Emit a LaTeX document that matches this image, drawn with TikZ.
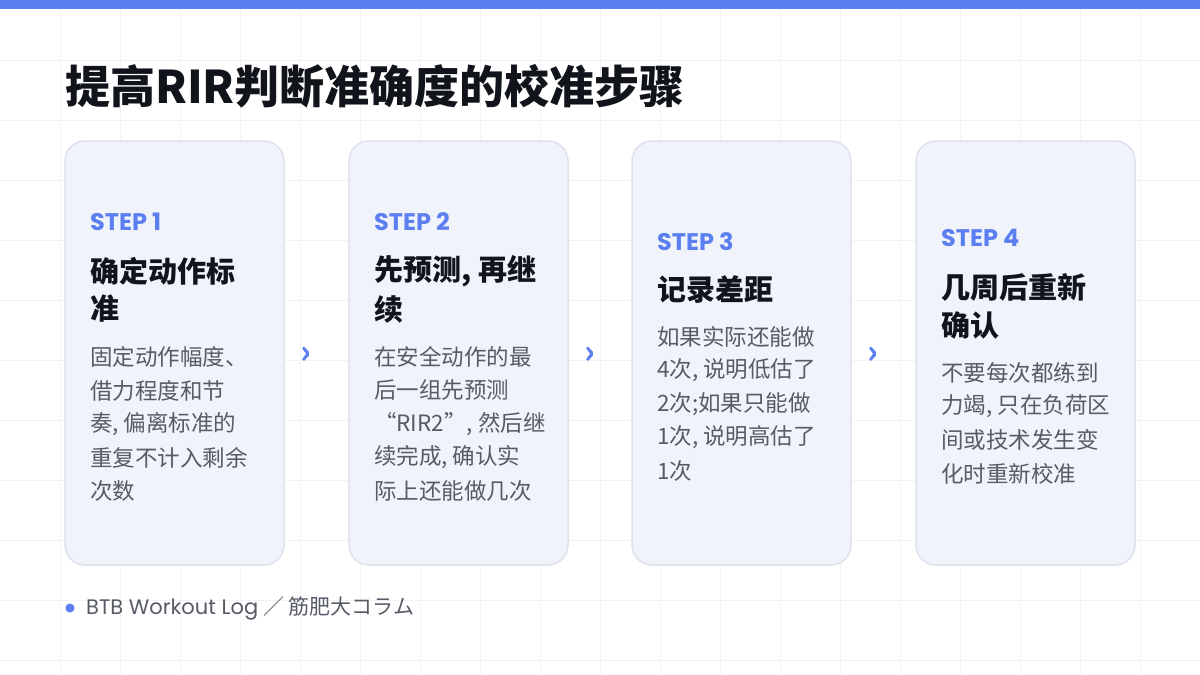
\documentclass[tikz,border=0pt]{standalone}
\usepackage{fontspec}
\setmainfont{Noto Sans CJK SC}
\newfontfamily\latb{Poppins}
\definecolor{accent}{HTML}{5B7FF0}
\definecolor{cardfill}{HTML}{F1F3FB}
\definecolor{cardline}{HTML}{DEE2EE}
\definecolor{gridc}{HTML}{F2F3F6}
\definecolor{body}{HTML}{575B66}
\definecolor{ink}{HTML}{12141C}
\begin{document}
\begin{tikzpicture}[x=1pt,y=-1pt,
 card/.style={draw=cardline,line width=1.5pt,fill=cardfill,rounded corners=20pt},
 stp/.style={anchor=west,inner sep=0,text=accent,font=\latb\fontsize{24}{24}\selectfont\bfseries},
 head/.style={anchor=west,inner sep=0,text=ink,font=\fontsize{29}{29}\selectfont\bfseries},
 bod/.style={anchor=west,inner sep=0,text=body,font=\fontsize{22.5}{22.5}\selectfont},
 arr/.style={text=accent,font=\fontsize{32}{32}\selectfont\bfseries,inner sep=0}]
\useasboundingbox (0,0) rectangle (1200,675);
\fill[white] (0,0) rectangle (1200,675);
\foreach \i in {1,...,19} \draw[gridc,line width=0.8pt] (\i*60,9) -- (\i*60,675);
\foreach \j in {1,...,11} \draw[gridc,line width=0.8pt] (0,\j*60) -- (1200,\j*60);
\fill[accent] (0,0) rectangle (1200,9);
\node[anchor=west,inner sep=0,text=ink,font=\fontsize{45}{45}\selectfont\bfseries] (title) at (65,86) {提高RIR判断准确度的校准步骤};
% cards
\foreach \x [count=\n] in {65,349,632,916} \draw[card] (\x,141) rectangle (\x+219,565);
% card1
\node[stp] (s1) at (90,222) {STEP 1};
\node[head] (h1a) at (90,271) {确定动作标};
\node[head] (h1b) at (90,309) {准};
\foreach \t [count=\k] in {固定动作幅度、,借力程度和节,{奏, 偏离标准的},重复不计入剩余,次数}
 \node[bod] (b1\k) at (90,357+33.5*\k-33.5) {\t};
% card2
\node[stp] (s2) at (374,222) {STEP 2};
\node[head] (h2a) at (374,271) {先预测, 再继};
\node[head] (h2b) at (374,309) {续};
\foreach \t [count=\k] in {在安全动作的最,后一组先预测,{“RIR2”, 然后继},{续完成, 确认实},际上还能做几次}
 \node[bod] (b2\k) at (374,357+33.5*\k-33.5) {\t};
% card3
\node[stp] (s3) at (657,242) {STEP 3};
\node[head] (h3a) at (657,290) {记录差距};
\foreach \t [count=\k] in {如果实际还能做,{4次, 说明低估了},2次;如果只能做,{1次, 说明高估了},1次}
 \node[bod] (b3\k) at (657,337+33.5*\k-33.5) {\t};
% card4
\node[stp] (s4) at (941,238) {STEP 4};
\node[head] (h4a) at (941,287) {几周后重新};
\node[head] (h4b) at (941,325) {确认};
\foreach \t [count=\k] in {不要每次都练到,{力竭, 只在负荷区},间或技术发生变,化时重新校准}
 \node[bod] (b4\k) at (941,373+33.5*\k-33.5) {\t};
% arrows
\node[arr] (a1) at (306,355) {›};
\node[arr] (a2) at (590,355) {›};
\node[arr] (a3) at (873,355) {›};
% footer
\fill[accent] (70,608) circle (4.5);
\node[anchor=west,inner sep=0,text=body,font=\fontsize{21}{21}\selectfont] (foot) at (86,608) {{\latb BTB Workout Log} ／ 筋肥大コラム};
\end{tikzpicture}
\end{document}
